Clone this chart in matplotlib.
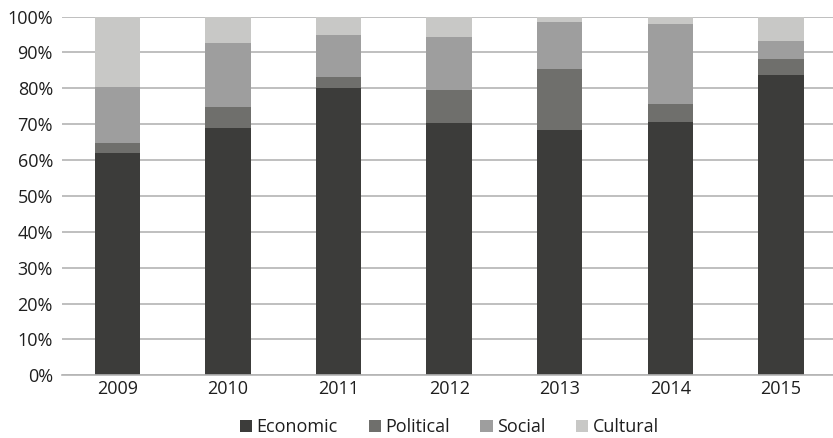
import numpy as np
import matplotlib
matplotlib.use("Agg")
import matplotlib.pyplot as plt
from matplotlib.ticker import PercentFormatter

years = ["2009", "2010", "2011", "2012", "2013", "2014", "2015"]
economic = [62.0, 68.9, 80.1, 70.3, 68.4, 70.6, 83.7]
political = [2.7, 5.9, 3.0, 9.2, 17.0, 5.0, 4.5]
social = [15.7, 17.8, 11.7, 14.8, 13.1, 22.3, 5.0]
cultural = [19.6, 7.4, 5.2, 5.7, 1.5, 2.1, 6.8]

series = [("Economic", economic, "#3c3c3a"),
          ("Political", political, "#6f6f6c"),
          ("Social", social, "#9e9e9e"),
          ("Cultural", cultural, "#c8c8c6")]

plt.rcParams['font.family'] = ['Open Sans', 'DejaVu Sans']

fig = plt.figure(figsize=(8.33, 4.38), dpi=100)
ax = fig.add_axes([0.0744, 0.1432, 0.9256, 0.8191])

x = np.arange(len(years))
bottom = np.zeros(len(years))
for name, vals, color in series:
    ax.bar(x, vals, width=0.41, bottom=bottom, color=color, label=name, zorder=2)
    bottom += np.asarray(vals)

ax.set_ylim(0, 100)
ax.set_xlim(-0.5, 6.47)
ax.set_yticks(np.arange(0, 101, 10))
ax.yaxis.set_major_formatter(PercentFormatter(decimals=0))
ax.set_xticks(x)
ax.set_xticklabels(years)
ax.tick_params(length=0, labelsize=13, colors="#1e1e1e")
ax.tick_params(axis='y', pad=6.5)
ax.tick_params(axis='x', pad=3.5)
ax.grid(axis='y', color="#b4b4b4", linewidth=1.2, zorder=0)
for s in ['top', 'right', 'left']:
    ax.spines[s].set_visible(False)
ax.spines['bottom'].set_color("#b4b4b4")
ax.spines['bottom'].set_linewidth(1.2)

fig.legend(loc='center', bbox_to_anchor=(0.5395, 0.025), ncol=4, frameon=False,
           fontsize=13, handlelength=0.67, handleheight=0.67, handletextpad=0.25,
           columnspacing=1.7, borderpad=0, labelcolor="#1e1e1e")

fig.savefig("out.png", dpi=100)
